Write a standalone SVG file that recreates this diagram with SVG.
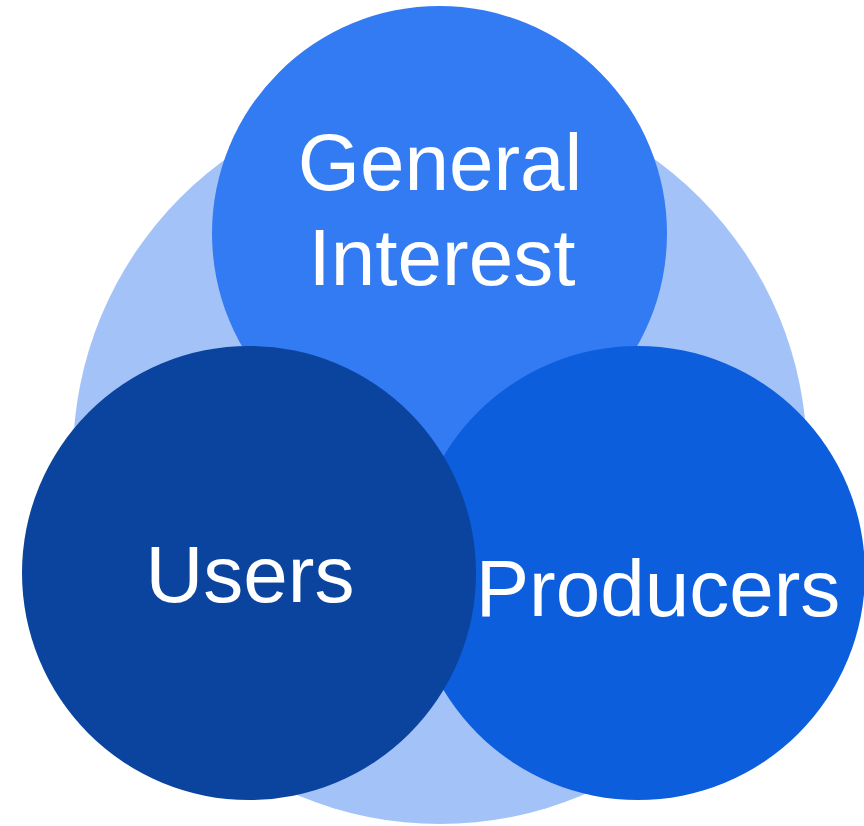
<svg xmlns="http://www.w3.org/2000/svg" width="864" height="826" viewBox="0 0 864 826">
<style>
text{font-family:"Liberation Sans",Arial,sans-serif;font-size:80px;fill:#ffffff;text-anchor:middle}
</style>
<rect width="864" height="826" fill="#ffffff"/>
<g id="background"><circle cx="440" cy="457" r="367" fill="#a3c3f8"/></g>
<g id="general-interest">
<circle cx="439.5" cy="233.5" r="227.5" fill="#337bf2"/>
<text x="440" y="190">General</text>
<text x="442" y="285">Interest</text>
</g>
<g id="producers">
<circle cx="638" cy="573" r="227" fill="#0c5edd"/>
<text x="658" y="616">Producers</text>
</g>
<g id="users">
<circle cx="249" cy="573" r="227" fill="#0a449f"/>
<text x="250" y="602">Users</text>
</g>
<g id="connectors"/>
</svg>
